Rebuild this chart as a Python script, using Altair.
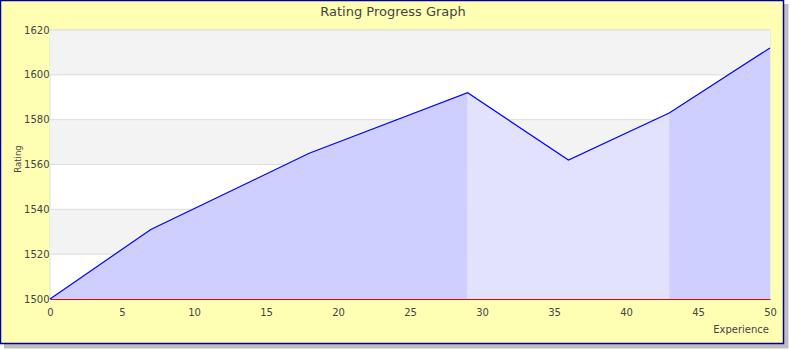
import altair as alt
import pandas as pd

# data
experience = [0, 7, 18, 29, 36, 43, 50]
rating = [1500, 1531, 1565, 1592, 1562, 1583, 1612]
# shaded segments (start, end, shade)
seg_starts = [0, 29, 43]
seg_ends = [29, 43, 50]
seg_shade = ["dark", "light", "dark"]
band_lo = [1520, 1560, 1600]
band_hi = [1540, 1580, 1620]
y_ticks = [1500, 1520, 1540, 1560, 1580, 1600, 1620]
x_ticks = [0, 5, 10, 15, 20, 25, 30, 35, 40, 45, 50]

FONT = "DejaVu Sans"
W, H = 720, 269

pts = pd.DataFrame({"x": experience, "y": rating})

rows = []
for i, (s, e, sh) in enumerate(zip(seg_starts, seg_ends, seg_shade)):
    for xv, yv in zip(experience, rating):
        if s <= xv <= e:
            rows.append({"x": xv, "y": yv, "seg": i, "shade": sh})
area_df = pd.DataFrame(rows)
bands = pd.DataFrame({"lo": band_lo, "hi": band_hi})
grid_df = pd.DataFrame({"t": y_ticks})

xs = alt.Scale(domain=[0, 50], nice=False)
ys = alt.Scale(domain=[1500, 1620], zero=False, nice=False)

frame = pd.DataFrame({"k": [0]})
shadow = alt.Chart(frame).mark_rect(fill="#888888", opacity=0.55, clip=False).encode(
    x=alt.value(-46), x2=alt.value(738.5), y=alt.value(-26), y2=alt.value(318.5)
)
border = alt.Chart(frame).mark_rect(fill="#FFFFB4", stroke="#000099", strokeWidth=1.5, clip=False).encode(
    x=alt.value(-49.5), x2=alt.value(733.5), y=alt.value(-29.5), y2=alt.value(313.5)
)
plotbg = alt.Chart(frame).mark_rect(fill="white", stroke="#DDDDDD", strokeWidth=1, clip=False).encode(
    x=alt.value(0), x2=alt.value(W), y=alt.value(0), y2=alt.value(H)
)

band_layer = alt.Chart(bands).mark_rect(fill="#F3F3F3").encode(
    y=alt.Y("lo:Q", scale=ys), y2="hi:Q", x=alt.value(0), x2=alt.value(W)
)
grid_layer = alt.Chart(grid_df).mark_rule(color="#DDDDDD", strokeWidth=1).encode(
    y=alt.Y("t:Q", scale=ys), x=alt.value(0), x2=alt.value(W)
)

area = alt.Chart(area_df).mark_area(interpolate="linear").encode(
    x=alt.X("x:Q", scale=xs,
            axis=alt.Axis(values=x_ticks, title=None, grid=False, ticks=False, domainColor="#EE0000",
                          domainWidth=1, labelFont=FONT, labelFontSize=10, labelColor="#444444",
                          labelPadding=8, labelFlush=False, format="d", zindex=2)),
    y=alt.Y("y:Q", scale=ys,
            axis=alt.Axis(values=y_ticks, title=None, grid=False, ticks=False,
                          domain=False, labelFont=FONT, labelFontSize=10, labelColor="#444444",
                          labelPadding=1, labelFlush=False, format="d", zindex=2)),
    y2=alt.datum(1500),
    detail="seg:N",
    color=alt.Color("shade:N", scale=alt.Scale(domain=["dark", "light"], range=["#CFCFFF", "#E2E2FF"]), legend=None),
)

line = alt.Chart(pts).mark_line(color="#0000FF", strokeWidth=1.2).encode(
    x=alt.X("x:Q", scale=xs), y=alt.Y("y:Q", scale=ys)
)

title = alt.Chart(frame).mark_text(text="Rating Progress Graph", font=FONT, fontSize=13, color="#444444",
                                    align="center", baseline="alphabetic", clip=False).encode(
    x=alt.value(343), y=alt.value(-14)
)
xtitle = alt.Chart(frame).mark_text(text="Experience", font=FONT, fontSize=10, color="#444444",
                                     align="right", baseline="alphabetic", clip=False).encode(
    x=alt.value(719), y=alt.value(303)
)
ytitle = alt.Chart(frame).mark_text(text="Rating", font=FONT, fontSize=8.5, color="#444444", angle=270,
                                     align="center", baseline="alphabetic", clip=False).encode(
    x=alt.value(-29), y=alt.value(129)
)

chart = alt.layer(shadow, border, plotbg, band_layer, grid_layer, area, line, title, xtitle, ytitle).properties(
    width=W, height=H,
    padding={"left": 50, "top": 30, "right": 20, "bottom": 51},
    autosize=alt.AutoSizeParams(type="none"),
    background="white",
).configure_view(stroke=None)

chart.save("out.html", embed_options={"renderer": "svg", "actions": False})
